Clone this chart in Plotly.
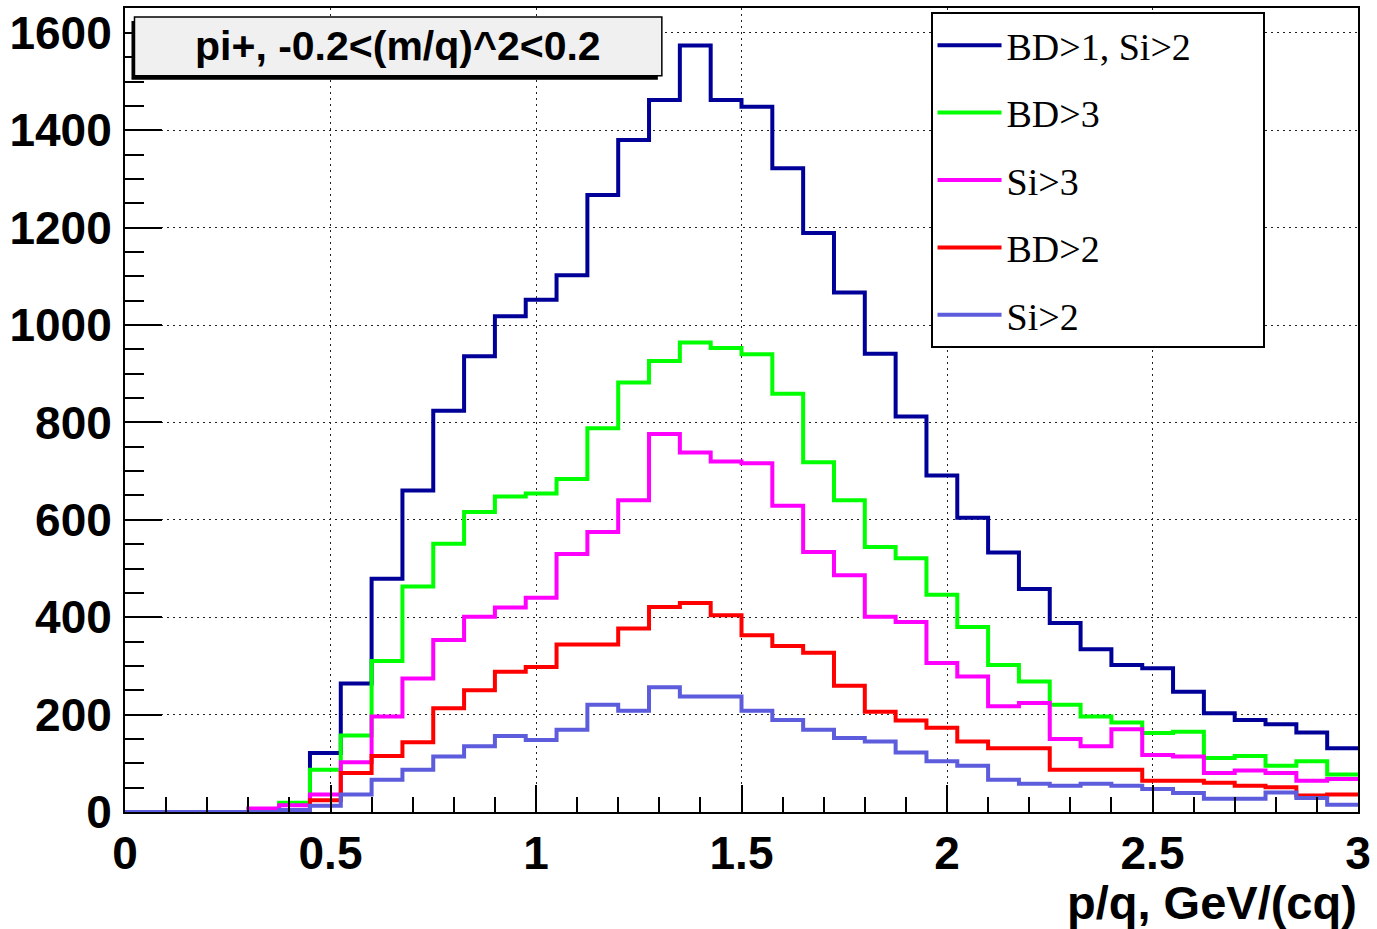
import numpy as np
import plotly.graph_objects as go

# ---- data (40 bins of width 0.075 from 0 to 3) ----
bin_edges = np.round(np.linspace(0.0, 3.0, 41), 4)

bd1_si2 = [0, 0, 0, 0, 0, 0, 121, 264, 479, 660, 824, 936, 1018, 1052, 1102, 1267,
           1380, 1462, 1574, 1462, 1448, 1322, 1189, 1067, 941, 812, 691, 604, 533,
           458, 388, 334, 302, 295, 247, 203, 189, 180, 163, 131]
bd3 = [0, 0, 0, 0, 0, 19, 87, 157, 310, 463, 551, 616, 648, 654, 684, 788, 882, 926,
       964, 953, 940, 859, 718, 640, 544, 521, 446, 380, 302, 268, 220, 196, 184, 162,
       165, 111, 115, 95, 104, 77]
si3 = [0, 0, 0, 0, 7, 14, 36, 102, 196, 274, 353, 401, 420, 440, 530, 575, 640, 776,
       738, 720, 716, 629, 534, 486, 401, 390, 306, 278, 217, 224, 150, 135, 170, 117,
       114, 80, 85, 80, 64, 68]
bd2 = [0, 0, 0, 0, 0, 0, 24, 80, 115, 143, 213, 250, 288, 298, 344, 344, 377, 421,
       429, 404, 363, 341, 327, 259, 206, 188, 173, 145, 131, 131, 87, 87, 87, 64, 64,
       60, 54, 51, 34, 36]
si2 = [0, 0, 0, 0, 0, 4, 13, 36, 66, 87, 114, 135, 156, 148, 169, 220, 208, 256, 237,
       237, 208, 189, 169, 152, 145, 122, 104, 95, 66, 58, 54, 58, 54, 47, 39, 27, 27,
       40, 29, 15]

series_names = ["BD>1, Si>2", "BD>3", "Si>3", "BD>2", "Si>2"]
series_values = [bd1_si2, bd3, si3, bd2, si2]
series_colors = ["#000099", "#00ff00", "#ff00ff", "#ff0000", "#5c5cdc"]

title_text = "pi+, -0.2<(m/q)^2<0.2"
x_title = "p/q, GeV/(cq)"

# ---- geometry helpers (pixel -> paper) ----
W, H = 1377, 929
L, R, T, B = 124.5, 1359.0, 6.0, 812.4


def px2x(px):
    return (px - L) / (R - L)


def px2y(py):
    return (B - py) / (B - T)


# the legend box in the original is wider than its longest entry:
# pad the longest label with invisible non-breaking spaces
legend_pad = "\u00a0" * 7

fig = go.Figure()
for i, (name, vals, col) in enumerate(zip(series_names, series_values, series_colors)):
    fig.add_trace(go.Scatter(
        x=list(bin_edges),
        y=list(vals) + [vals[-1]],
        mode="lines",
        line=dict(color=col, width=4, shape="hv"),
        name=name + (legend_pad if i == 0 else ""),
        legendgroup=name,
    ))

sans = "Liberation Sans, Arial, Helvetica, sans-serif"
serif = "Liberation Serif, Times New Roman, serif"

axis_common = dict(
    showline=True, linewidth=2, linecolor="black", mirror=True,
    ticks="inside", tickcolor="black", tickwidth=1.5,
    showgrid=True, gridcolor="#222222", gridwidth=1.2, griddash="2px,4px",
    zeroline=False,
    tickfont=dict(family=sans, size=46, color="black", weight="bold"),
)

fig.update_layout(
    width=W, height=H, autosize=False,
    margin=dict(l=L, r=W - R, t=T, b=H - B),
    paper_bgcolor="white", plot_bgcolor="white",
    xaxis=dict(range=[0, 3], tick0=0, dtick=0.5, ticklen=27,
               minor=dict(dtick=0.1, ticklen=15, ticks="inside", tickcolor="black",
                          tickwidth=1.5, showgrid=False),
               **axis_common),
    yaxis=dict(range=[0, 1651], tick0=0, dtick=200, ticklen=37, ticklabelstandoff=2,
               minor=dict(dtick=50, ticklen=19, ticks="inside", tickcolor="black",
                          tickwidth=1.5, showgrid=False),
               **axis_common),
    showlegend=True,
    legend=dict(
        x=px2x(931), y=px2y(10), xanchor="left", yanchor="top",
        bgcolor="white", bordercolor="black", borderwidth=2,
        font=dict(family=serif, size=38, color="black"),
        tracegroupgap=15, itemwidth=64,
    ),
)

# title pave with shadow
fig.add_shape(type="rect", xref="paper", yref="paper",
              x0=px2x(131), x1=px2x(658), y0=px2y(78), y1=px2y(19),
              fillcolor="black", line=dict(width=0), layer="above")
fig.add_shape(type="rect", xref="paper", yref="paper",
              x0=px2x(134), x1=px2x(662), y0=px2y(74), y1=px2y(15),
              fillcolor="#f0f0f0", line=dict(color="black", width=1.5), layer="above")
fig.add_annotation(xref="paper", yref="paper", x=px2x(398), y=px2y(44.5),
                   xanchor="center", yanchor="middle", showarrow=False,
                   text=title_text,
                   font=dict(family=sans, size=41, color="black", weight="bold"))

# x axis title, right aligned as in ROOT
fig.add_annotation(xref="paper", yref="paper", x=px2x(1360), y=px2y(903),
                   xanchor="right", yanchor="middle", showarrow=False,
                   text=x_title,
                   font=dict(family=sans, size=47, color="black", weight="bold"))

fig.write_html("out.html")
